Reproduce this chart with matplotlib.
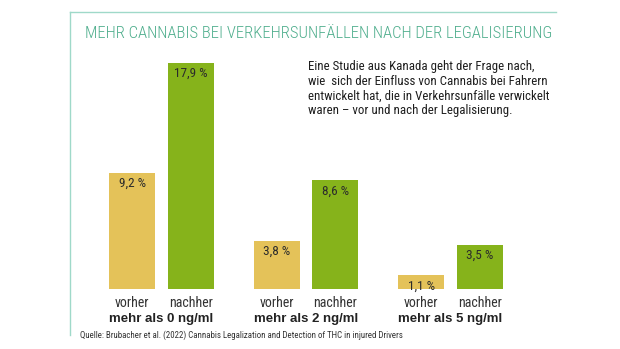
import numpy as np
import matplotlib
matplotlib.use("Agg")
import matplotlib.pyplot as plt
from matplotlib import font_manager
from matplotlib.lines import Line2D

# data
gruppen = ["mehr als 0 ng/ml", "mehr als 2 ng/ml", "mehr als 5 ng/ml"]
vorher = [9.2, 3.8, 1.1]
nachher = [17.9, 8.6, 3.5]
serien = ["vorher", "nachher"]

titel = "MEHR CANNABIS BEI VERKEHRSUNFÄLLEN NACH DER LEGALISIERUNG"
info = ("Eine Studie aus Kanada geht der Frage nach,\n"
        "wie  sich der Einfluss von Cannabis bei Fahrern\n"
        "entwickelt hat, die in Verkehrsunfälle verwickelt\n"
        "waren – vor und nach der Legalisierung.")
quelle = "Quelle: Brubacher et al. (2022) Cannabis Legalization and Detection of THC in injured Drivers"

W, H = 620, 349
GELB = "#e4c259"
GRUEN = "#86b31b"
TEAL = "#4fae8d"
LINIE = "#9fd9c9"

# pick a condensed face if one is installed
namen = {f.name for f in font_manager.fontManager.ttflist}
schmal = None
for kandidat in ["Liberation Sans Narrow", "Roboto Condensed", "Open Sans Condensed",
                 "DejaVu Sans Condensed", "Arial Narrow"]:
    if kandidat in namen:
        schmal = kandidat
        break
if schmal is None:
    NARROW = ["Liberation Sans", "DejaVu Sans"]
    k = 0.82  # shrink factor for a normal-width face
else:
    NARROW = [schmal, "DejaVu Sans"]
    k = 1.0

fig = plt.figure(figsize=(W / 100, H / 100), dpi=100)
fig.patch.set_facecolor("white")

def px(x, y):
    return x / W, 1 - y / H

# frame lines
fig.add_artist(Line2D([70 / W, 70 / W], [1 - 12 / H, 1 - 335 / H], color=LINIE, lw=1.0))
fig.add_artist(Line2D([70 / W, 556 / W], [1 - 12 / H, 1 - 12 / H], color=LINIE, lw=1.0))

# axes: x 70..556 px, baseline at y=289, top at y=40
ax = fig.add_axes([70 / W, 1 - 289 / H, 486 / W, 249 / H])
ax.set_axis_off()
unit = 58.5
step = 144.5 / unit
x0 = (161.5 - 70) / unit
ax.set_xlim(-x0, -x0 + 486 / unit)
ax.set_ylim(0, 249 / 12.63)

mitte = np.arange(len(gruppen)) * step
breite = 46 / unit
b1 = ax.bar(mitte - 0.5, vorher, breite, color=GELB)
b2 = ax.bar(mitte + 0.5, nachher, breite, color=GRUEN)

for bars, werte in ((b1, vorher), (b2, nachher)):
    for b, v in zip(bars, werte):
        ax.annotate(f"{v:.1f} %".replace(".", ","),
                    (b.get_x() + b.get_width() / 2, v),
                    xytext=(0, -3), textcoords="offset points",
                    ha="center", va="top", fontsize=9.5 * k,
                    family=NARROW, color="#2b2b2b")

for m, g in zip(mitte, gruppen):
    for off, s in zip((-0.5, 0.5), serien):
        ax.annotate(s, (m + off, 0), xytext=(0, -5), textcoords="offset points",
                    ha="center", va="top", fontsize=10 * k, family=NARROW,
                    color="#333333", annotation_clip=False)
    ax.annotate(g, (m, 0), xytext=(0, -17.5), textcoords="offset points",
                ha="center", va="top", fontsize=9.5, fontweight="bold",
                family=["Liberation Sans", "DejaVu Sans"], color="#222222",
                annotation_clip=False)

fig.text(*px(85, 34), titel, ha="left", va="center", fontsize=12 * k,
         family=NARROW, fontweight="light", color=TEAL)
fig.text(*px(308, 60), info, ha="left", va="top", fontsize=9.3 * k,
         family=NARROW, color="#1e1e1e", linespacing=1.17)
fig.text(*px(80, 335), quelle, ha="left", va="center", fontsize=6.4 * k,
         family=NARROW, color="#333333")

fig.savefig("out.png", dpi=100, facecolor="white")
